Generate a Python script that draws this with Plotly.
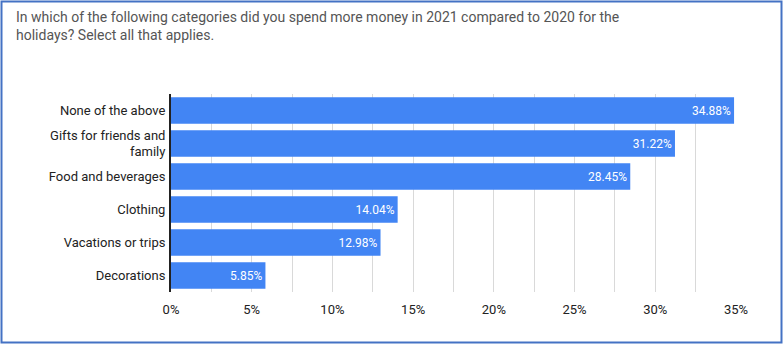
import plotly.graph_objects as go

categories = ["None of the above", "Gifts for friends and<br>family", "Food and beverages",
              "Clothing", "Vacations or trips", "Decorations"]
values = [34.88, 31.22, 28.45, 14.04, 12.98, 5.85]
tick_vals = [0, 5, 10, 15, 20, 25, 30, 35]
tick_text = ["0%", "5%", "10%", "15%", "20%", "25%", "30%", "35%"]
title = "In which of the following categories did you spend more money in 2021 compared to 2020 for the<br>holidays? Select all that applies."

L, R, T, B = 171, 48, 94, 55
W, H = 784, 347
pw, ph = W - L - R, H - T - B

def px(x):
    return (x - L) / pw

def py(y):
    return (H - B - y) / ph

fig = go.Figure(go.Bar(
    x=values, y=categories, orientation="h",
    marker=dict(color="#4285F4", line=dict(width=0)),
    texttemplate="%{x:.2f}%", textposition="inside", insidetextanchor="end",
    textfont=dict(color="white", size=12, family="Roboto"),
    cliponaxis=False,
))

fig.update_layout(
    width=W, height=H,
    margin=dict(l=L, r=R, t=T, b=B),
    paper_bgcolor="white", plot_bgcolor="white",
    bargap=0.2,
    showlegend=False,
    font=dict(family="Roboto", size=13, color="#222222"),
    xaxis=dict(range=[0, 35], tickvals=tick_vals, ticktext=tick_text,
               showgrid=True, gridcolor="#d9d9d9", gridwidth=1,
               minor=dict(dtick=2.5, tick0=0, showgrid=True, gridcolor="#d9d9d9", gridwidth=1),
               zeroline=False, showline=False, ticks="", ticklabelstandoff=8,
               tickfont=dict(size=13, color="#222222", family="Roboto"), fixedrange=True),
    yaxis=dict(autorange="reversed", showline=True, linecolor="#222222", linewidth=2,
               ticks="", showgrid=False, ticklabelstandoff=1,
               tickfont=dict(size=13, color="#222222", family="Roboto"), fixedrange=True),
    annotations=[dict(text=title, xref="paper", yref="paper", x=px(14), y=py(7),
                      xanchor="left", yanchor="top", align="left", showarrow=False,
                      font=dict(size=14, color="#555555", family="Roboto"))],
    shapes=[dict(type="rect", xref="paper", yref="paper",
                 x0=px(1.5), x1=px(781.5), y0=py(342.5), y1=py(1.5),
                 line=dict(color="#4472C4", width=2), fillcolor="rgba(0,0,0,0)", layer="above")],
)

fig.write_html("out.html")
